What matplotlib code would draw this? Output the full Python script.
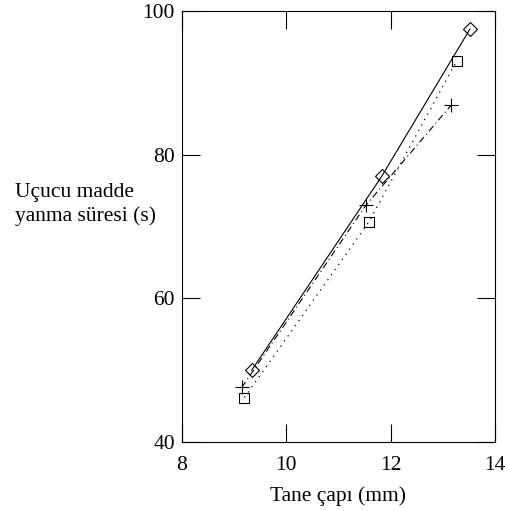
import matplotlib
matplotlib.use('Agg')
import matplotlib.pyplot as plt

# grain diameter (mm) vs volatile burn time (s)
x_diamond = [9.34, 11.83, 13.52]
y_diamond = [50.0, 77.0, 97.5]
x_square = [9.20, 11.58, 13.27]
y_square = [46.2, 70.6, 93.1]
x_plus = [9.15, 11.53, 13.16]
y_plus = [47.6, 73.0, 86.9]

xticks = [8, 10, 12, 14]
yticks = [40, 60, 80, 100]

plt.rcParams['font.family'] = 'Liberation Serif'
plt.rcParams['font.size'] = 15.5

fig = plt.figure(figsize=(5.05, 5.11), dpi=100)
ax = fig.add_axes([0.36, 0.135, 0.62, 0.843])

ax.plot(x_diamond, y_diamond, color='black', linestyle='-', linewidth=0.8,
        marker='D', markersize=7, markerfacecolor='none', markeredgewidth=0.8)
ax.plot(x_square, y_square, color='black', linestyle=(0, (1, 4)), linewidth=0.9,
        marker='s', markersize=7, markerfacecolor='none', markeredgewidth=0.8)
ax.plot(x_plus, y_plus, color='black', linestyle=(0, (6, 3, 1, 3)), linewidth=0.8,
        marker='+', markersize=10, markeredgewidth=0.8)

ax.set_xlim(8, 14)
ax.set_ylim(40, 100)
ax.set_xticks(xticks)
ax.set_yticks(yticks)
ax.tick_params(direction='in', length=13, width=0.8, top=True, right=True)
ax.tick_params(axis='x', pad=10)
ax.tick_params(axis='y', pad=5)
for s in ax.spines.values():
    s.set_linewidth(0.8)

ax.set_xlabel('Tane çapı (mm)', labelpad=8)
fig.text(0.03, 0.60, 'Uçucu madde\nyanma süresi (s)', ha='left', va='center',
         linespacing=1.3, fontsize=15.5)

fig.savefig('out.png', dpi=100)
